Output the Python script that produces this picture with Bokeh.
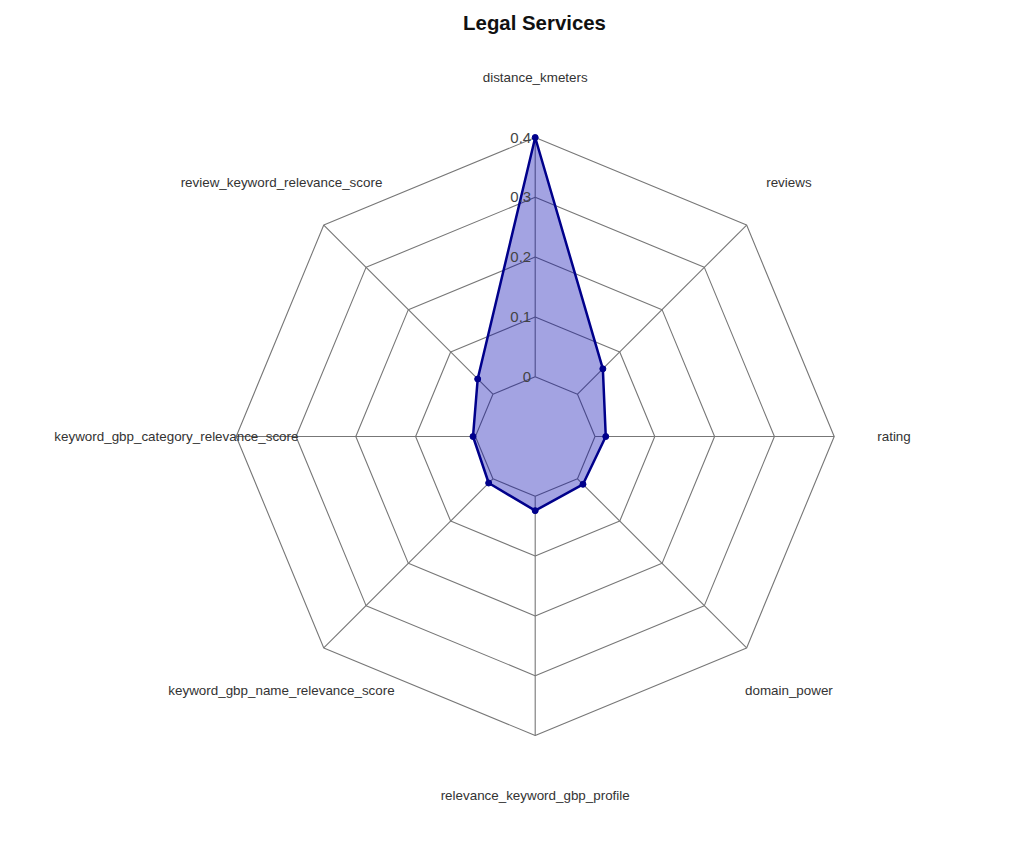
import numpy as np
from bokeh.plotting import figure
from bokeh.models import Range1d, ColumnDataSource, Label
from bokeh.core.properties import value
from bokeh.embed import file_html
from bokeh.resources import INLINE

title_text = "Legal Services"
categories = ["distance_kmeters", "reviews", "rating", "domain_power",
              "relevance_keyword_gbp_profile", "keyword_gbp_name_relevance_score",
              "keyword_gbp_category_relevance_score", "review_keyword_relevance_score"]
values = [0.40, 0.060, 0.018, 0.013, 0.024, 0.010, 0.004, 0.036]
tick_values = [0.0, 0.1, 0.2, 0.3, 0.4]
tick_labels = ["0", "0.1", "0.2", "0.3", "0.4"]
r_min = -0.1   # radial axis origin (centre of the web)
r_max = 0.4

W, H = 1008, 845
PX = 598.0  # pixels per data unit
cx, cy = 534.7, 436
p = figure(width=W, height=H, output_backend="svg", toolbar_location=None,
           x_range=Range1d(-cx / PX, (W - cx) / PX),
           y_range=Range1d(-(H - cy) / PX, cy / PX),
           min_border=0)
p.axis.visible = False
p.grid.visible = False
p.outline_line_color = None
p.background_fill_color = "white"
p.border_fill_color = "white"

n = len(categories)
ang = np.pi / 2 - np.arange(n) * 2 * np.pi / n

def rad(v):
    return np.asarray(v) - r_min

# rings
ring_xs, ring_ys = [], []
for t in tick_values:
    r = rad(t)
    ring_xs.append(list(np.append(r * np.cos(ang), r * np.cos(ang[0]))))
    ring_ys.append(list(np.append(r * np.sin(ang), r * np.sin(ang[0]))))
p.multi_line(ring_xs, ring_ys, line_color="#777777", line_width=1.1)

# spokes
r0, r1 = rad(tick_values[0]), rad(r_max)
sp_xs = [[r0 * np.cos(a), r1 * np.cos(a)] for a in ang]
sp_ys = [[r0 * np.sin(a), r1 * np.sin(a)] for a in ang]
p.multi_line(sp_xs, sp_ys, line_color="#777777", line_width=1.1)

# data polygon
rv = rad(values)
src = ColumnDataSource(dict(x=rv * np.cos(ang), y=rv * np.sin(ang)))
p.patch("x", "y", source=src, fill_color=(0, 0, 175), fill_alpha=0.36,
        line_color="#00008B", line_width=2.5, line_join="round")
p.scatter("x", "y", source=src, size=6, color="#00008B")

# tick labels along the first spoke
tr = rad(tick_values)
p.text(x=list(tr * np.cos(ang[0])), y=list(tr * np.sin(ang[0])), text=tick_labels,
       text_align="right", text_baseline="middle", x_offset=-4,
       text_font=value("Liberation Sans"), text_font_size="15px", text_color="#444444")

# category labels
lr = rad(r_max) * 1.2
p.text(x=list(lr * np.cos(ang)), y=list(lr * np.sin(ang)), text=categories,
       text_align="center", text_baseline="middle",
       text_font=value("Liberation Sans"), text_font_size="13.4px", text_color="#333333")

p.add_layout(Label(x=534, y=H - 22, x_units="screen", y_units="screen",
                   text=title_text, text_align="center", text_baseline="middle",
                   text_font="Liberation Sans", text_font_style="bold",
                   text_font_size="20.4px", text_color="#111111"))

open("out.html", "w").write(file_html(p, INLINE))
